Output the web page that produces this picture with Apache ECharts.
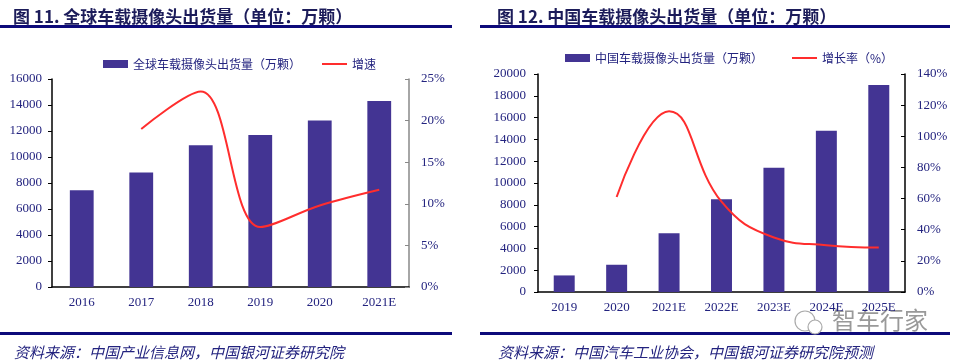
<!DOCTYPE html>
<html><head><meta charset="utf-8">
<script src="https://cdn.jsdelivr.net/npm/echarts@6/dist/echarts.min.js"></script>
<style>html,body{margin:0;padding:0;background:#fff}#c{width:954px;height:362px}</style>
</head><body><div id="c"></div>
<script>
// Left chart: global
const globalYears = ['2016','2017','2018','2019','2020','2021E'];
const globalShipments = [7450, 8800, 10900, 11700, 12800, 14300];
const globalGrowth = [null, 19.0, 23.5, 7.2, 9.8, 11.7];
const globalLeftTicks = {min: 0, max: 16000, interval: 2000};
const globalRightTicks = {min: 0, max: 25, interval: 5};
// Right chart: China
const chinaYears = ['2019','2020','2021E','2022E','2023E','2024E','2025E'];
const chinaShipments = [1520, 2500, 5400, 8500, 11400, 14800, 19000];
const chinaGrowth = [null, 61, 116, 58, 35, 30, 28.5];
const chinaLeftTicks = {min: 0, max: 20000, interval: 2000};
const chinaRightTicks = {min: 0, max: 140, interval: 20};

const BAR = '#433493', RED = '#ff2d2d', NAVY = '#23237f', TITLE = '#1c1c5a', RULE = '#0d0a7a';
const serif = 'Liberation Serif', cjk = 'Noto Sans CJK SC';
const axisLab = {color: NAVY, fontFamily: serif, fontSize: 13};

function yAxis(grid, t, pos, fmt, lineColor, margin) {
  return Object.assign({type: 'value', gridIndex: grid, position: pos,
    axisLine: {show: true, lineStyle: {color: lineColor, width: 1.5}},
    axisTick: {show: true, inside: pos === 'right', length: 4, lineStyle: {color: lineColor}},
    splitLine: {show: false},
    axisLabel: Object.assign({formatter: fmt, margin: margin}, axisLab)}, t);
}
function xAxis(grid, cats) {
  return {type: 'category', gridIndex: grid, data: cats,
    axisLine: {lineStyle: {color: '#000', width: 1.5}},
    axisTick: {inside: true, length: 5, lineStyle: {color: '#000'}},
    axisLabel: Object.assign({margin: 9}, axisLab)};
}
const plain = v => String(v);
const pct = v => v + '%';
const lineLegend = {itemStyle: {opacity: 0}, lineStyle: {color: RED, width: 2}};

const chart = echarts.init(document.getElementById('c'), null, {renderer: 'canvas'});
chart.setOption({
  backgroundColor: '#fff',
  animation: false,
  title: [
    {text: '图 11. 全球车载摄像头出货量（单位：万颗）', left: 8, top: 3,
     textStyle: {color: TITLE, fontSize: 17, fontWeight: 'bold', fontFamily: cjk}},
    {text: '图 12. 中国车载摄像头出货量（单位：万颗）', left: 492, top: 3,
     textStyle: {color: TITLE, fontSize: 17, fontWeight: 'bold', fontFamily: cjk}},
    {text: '资料来源：中国产业信息网，中国银河证券研究院', left: 9, top: 340,
     textStyle: {color: NAVY, fontSize: 15, fontWeight: 'normal', fontStyle: 'italic', fontFamily: cjk}},
    {text: '资料来源：中国汽车工业协会，中国银河证券研究院预测', left: 493, top: 340,
     textStyle: {color: NAVY, fontSize: 15, fontWeight: 'normal', fontStyle: 'italic', fontFamily: cjk}}
  ],
  legend: [
    {left: 98, top: 53, itemWidth: 25, itemHeight: 8, itemGap: 20,
     textStyle: {color: NAVY, fontSize: 12, fontFamily: cjk},
     data: [{name: '全球车载摄像头出货量（万颗）', icon: 'rect'}, Object.assign({name: '增速'}, lineLegend)]},
    {left: 560, top: 47, itemWidth: 25, itemHeight: 8, itemGap: 28,
     textStyle: {color: NAVY, fontSize: 12, fontFamily: cjk},
     data: [{name: '中国车载摄像头出货量（万颗）', icon: 'rect'}, Object.assign({name: '增长率（%）'}, lineLegend)]}
  ],
  grid: [
    {left: 52, right: 545, top: 79, bottom: 75},
    {left: 538, right: 49, top: 74, bottom: 70}
  ],
  xAxis: [xAxis(0, globalYears), xAxis(1, chinaYears)],
  yAxis: [
    yAxis(0, globalLeftTicks, 'left', plain, '#000', 10),
    yAxis(0, globalRightTicks, 'right', pct, '#888', 12),
    yAxis(1, chinaLeftTicks, 'left', plain, '#000', 12),
    yAxis(1, chinaRightTicks, 'right', pct, '#000', 12)
  ],
  series: [
    {name: '全球车载摄像头出货量（万颗）', type: 'bar', xAxisIndex: 0, yAxisIndex: 0,
     data: globalShipments, barWidth: '40%', itemStyle: {color: BAR}},
    {name: '增速', type: 'line', xAxisIndex: 0, yAxisIndex: 1, data: globalGrowth,
     smooth: 0.36, symbol: 'none', lineStyle: {color: RED, width: 2}, itemStyle: {color: RED}},
    {name: '中国车载摄像头出货量（万颗）', type: 'bar', xAxisIndex: 1, yAxisIndex: 2,
     data: chinaShipments, barWidth: '40%', itemStyle: {color: BAR}},
    {name: '增长率（%）', type: 'line', xAxisIndex: 1, yAxisIndex: 3, data: chinaGrowth,
     smooth: 0.45, symbol: 'none', lineStyle: {color: RED, width: 2}, itemStyle: {color: RED}}
  ],
  graphic: [
    {type: 'rect', shape: {x: 0, y: 25, width: 452, height: 3}, style: {fill: RULE}},
    {type: 'rect', shape: {x: 480, y: 25, width: 470, height: 3}, style: {fill: RULE}},
    {type: 'rect', shape: {x: 0, y: 332, width: 452, height: 3}, style: {fill: RULE}},
    {type: 'rect', shape: {x: 480, y: 332, width: 470, height: 3}, style: {fill: RULE}},
    {type: 'circle', shape: {cx: 805, cy: 321, r: 10}, style: {fill: 'none', stroke: '#aaa', lineWidth: 1.2}},
    {type: 'circle', shape: {cx: 815, cy: 327, r: 7}, style: {fill: '#fff', stroke: '#aaa', lineWidth: 1.2}},
    {type: 'text', x: 832, y: 308, style: {text: '智车行家', fill: '#999', fontSize: 24, fontFamily: cjk}}
  ]
});
</script></body></html>
